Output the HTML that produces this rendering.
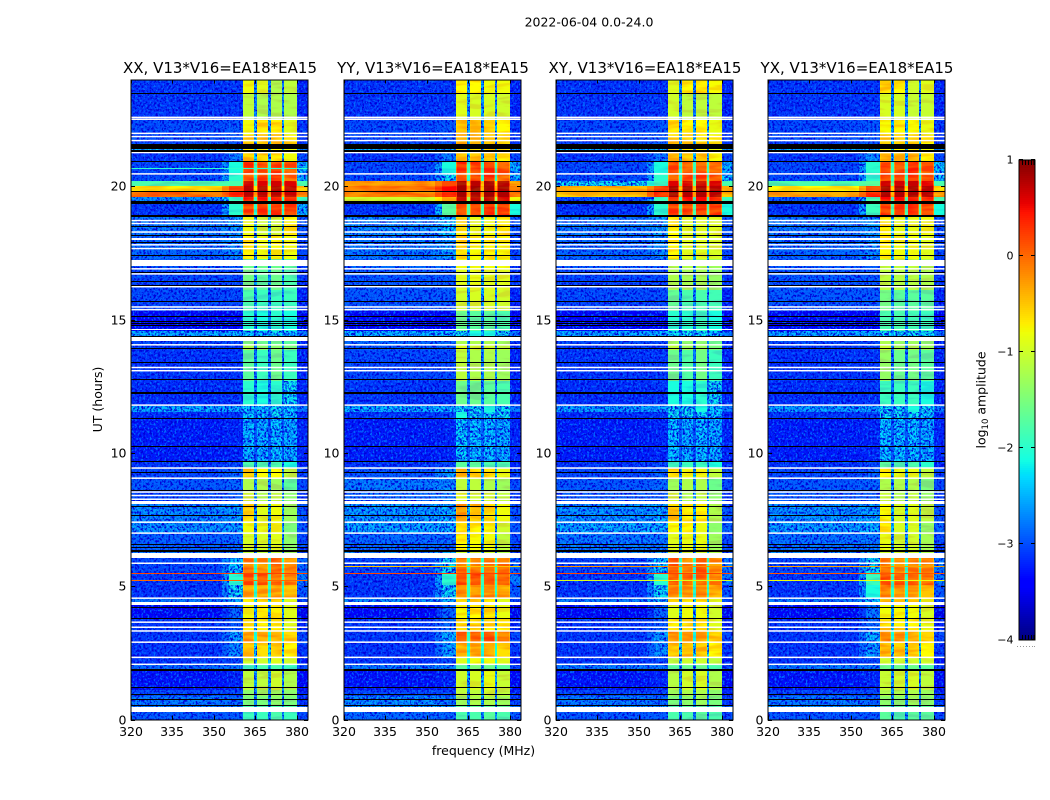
<!DOCTYPE html>
<html>
<head>
<meta charset="utf-8">
<title>2022-06-04 amplitude waterfall</title>
<style>
html,body{margin:0;padding:0;background:#fff;}
svg{display:block;font-family:"DejaVu Sans","Liberation Sans",sans-serif;fill:#000;}
</style>
</head>
<body>
<svg id="chart" xmlns="http://www.w3.org/2000/svg" width="1050" height="800" viewBox="0 0 1050 800">
<defs>
<filter id="speckle" x="0" y="0" width="1" height="1" color-interpolation-filters="sRGB">
<feTurbulence type="fractalNoise" baseFrequency="0.48 0.42" numOctaves="2" seed="4" result="n"/>
<feColorMatrix in="n" type="matrix" values="0 0 0 0 0  0 0 0 0 0.42  0 0 0 0 1  5 0 0 0 -2.6" result="light0"/>
<feComposite in="light0" in2="SourceAlpha" operator="in" result="light"/>
<feColorMatrix in="n" type="matrix" values="0 0 0 0 0  0 0 0 0 0  0 0 0 0 0.85  0 5 0 0 -2.3" result="dark0"/>
<feComposite in="dark0" in2="SourceAlpha" operator="in" result="dark"/>
<feMerge><feMergeNode in="SourceGraphic"/><feMergeNode in="dark"/><feMergeNode in="light"/></feMerge>
</filter>
<filter id="mottle" x="0" y="0" width="1" height="1" color-interpolation-filters="sRGB">
<feTurbulence type="fractalNoise" baseFrequency="0.035 0.22" numOctaves="2" seed="9" result="n"/>
<feColorMatrix in="n" type="matrix" values="0 0 0 0 0.5  3 0 0 0 -1  0 0 0 0 0.5  0 0 0 0 1" result="g"/>
<feComposite in="SourceGraphic" in2="g" operator="arithmetic" k1="0" k2="1" k3="0.22" k4="-0.11" result="mix"/>
<feComposite in="mix" in2="SourceAlpha" operator="in"/>
</filter>
</defs>
<text x="589" y="26.5" font-size="12.5" text-anchor="middle">2022-06-04 0.0-24.0</text>
<text x="483.5" y="755" font-size="12.5" text-anchor="middle">frequency (MHz)</text>
<text x="0" y="0" font-size="12.5" text-anchor="middle" transform="translate(102 399.5) rotate(-90)">UT (hours)</text>
<text x="0" y="0" font-size="12.5" text-anchor="middle" transform="translate(985.5 400) rotate(-90)">log<tspan font-size="8.5" dy="2.5">10</tspan><tspan dy="-2.5"> amplitude</tspan></text>
<g id="panels"></g>
<g id="colorbar"></g>
</svg>
<script>
// UT band edges in hours
const bandEdges = [0,.28,.5,.88,1.11,1.89,2.08,2.32,2.91,3.32,3.77,4.29,4.56,5.04,5.49,6.05,6.28,6.99,7.41,8.08,8.57,9.05,9.43,9.65,11.31,11.53,11.75,12.69,13.86,14.04,14.38,14.57,15.32,16.1,16.93,17.27,18.17,18.88,19.37,19.59,19.82,20.0,20.19,20.46,20.91,21.24,21.54,21.92,22.48,23.49,24];
// frequency segment edges in MHz
const freqEdges = [320,353,355.5,360.4,360.8,364.2,364.5,365.5,365.8,369.2,369.5,370.5,370.8,374.2,374.5,375.5,375.8,379.6,380,384];
// which level column each frequency segment reads
const segmentColumn = [0,1,1,2,2,2,6,3,3,3,6,4,4,4,6,5,5,5,7];
// how each segment uses its column: flat value, shoulder foot, or sub-band rim
const segmentKind = ["flat","foot","flat","rim","flat","rim","flat","rim","flat","rim","flat","rim","flat","rim","flat","rim","flat","rim","flat"];

// log10 amplitude per band: [background, shoulder, sub1, sub2, sub3, sub4, gap, edge]
const xxLevels = [
[-2.9,-2.9,-1.9,-1.9,-1.8,-1.9,-2.6,-3],[-2.6,-2.6,-1.8,-1.8,-1.8,-1.8,-2.5,-2.8],[-2.7,-2.8,-1.5,-1.5,-1.4,-1.5,-2.6,-3.1],[-3,-3,-1.4,-1.3,-1.3,-1.4,-2.6,-3.2],[-3.3,-3.2,-1.1,-1.1,-1,-1.2,-2.5,-3.4],
[-2.8,-2.7,-1.9,-1.8,-1.8,-1.9,-2.4,-3],[-3.1,-3,-1,-1,-.9,-1,-2.2,-3.3],[-3.1,-2.6,-.5,-.5,-.45,-.7,-2.2,-3.1],[-3.1,-2.5,-.25,-.3,-.4,-.5,-2.1,-3],[-3.1,-2.9,-.7,-.7,-.7,-.9,-2.3,-3.2],
[-3.45,-2.8,-.8,-.7,-.6,-.9,-2.4,-3.5],[-2.7,-2.4,-.6,-.6,-.6,-.9,-2.2,-3],[-3.1,-2.2,-.3,-.3,-.3,-.4,-2,-2.9],[-3.1,-2,.1,.1,-.05,-.1,-1.9,-2.7],[-3,-2.3,-.1,-.2,0,-.2,-2,-2.8],
[-2.7,-2.6,-1.1,-1.1,-1.1,-1.3,-2.5,-3],[-2.85,-2.8,-.95,-.95,-.9,-1.4,-2.5,-3],[-2.55,-2.5,-.8,-.85,-.8,-1.5,-2.5,-2.9],[-2.6,-2.5,-.6,-.9,-.8,-1.3,-2.4,-2.9],[-3,-2.9,-1,-1.2,-1.1,-1.4,-2.5,-3.1],
[-2.9,-2.8,-1.2,-1.2,-1.3,-1.7,-2.5,-3],[-3,-2.8,-.5,-.7,-.7,-1.1,-2.4,-3],[-3.1,-3,-1.8,-1.8,-1.8,-2.1,-2.6,-3.2],[-3.25,-3.2,-2.35,-2.4,-2.3,-2.4,-2.9,-3.2],[-3.15,-3.1,-2.3,-2.3,-2.2,-2.3,-2.8,-3.2],
[-2.45,-2.45,-2.3,-2.3,-2.2,-2.3,-2.5,-2.7],[-3.15,-3.1,-2,-2.1,-2,-2.2,-2.7,-3.2],[-3.1,-3.1,-1.7,-1.9,-1.6,-1.9,-2.7,-3.2],[-3.1,-3.1,-1.2,-1.4,-1.4,-1.5,-2.6,-3.2],[-3,-3,-1.5,-1.6,-1.6,-1.7,-2.6,-3.2],
[-2.45,-2.4,-2.3,-2.3,-2.2,-2.3,-2.5,-2.7],[-3.45,-3.4,-2,-2.1,-2,-2.1,-2.7,-3.4],[-3,-3,-1.8,-1.9,-1.9,-1.9,-2.6,-3.2],[-3,-3,-1.55,-1.7,-1.6,-1.8,-2.5,-3.1],[-2.9,-2.9,-1.6,-1.6,-1.6,-1.7,-2.5,-3.1],
[-2.8,-2.6,-.7,-.8,-.75,-.8,-2.3,-3],[-2.7,-2.5,-.8,-1,-1,-.7,-2.3,-2.9],[-3.1,-2,.2,.25,.25,.2,-2,-2.4],[-2.6,-1.9,.4,.4,.4,.35,-1.9,-1.9],[0,.3,.75,.75,.75,.7,-.3,-.2],
[-.6,.1,.75,.75,.75,.7,-.6,-.5],[-1.8,-1.8,.65,.6,.65,.6,-1.6,-1.8],[-3,-2,.1,.2,.3,0,-2,-2.4],[-3,-2.1,.25,.15,.2,.1,-1.9,-2.4],[-3.1,-2.7,-.5,-.5,-.6,-.8,-2.3,-3],
[-2.3,-2.3,-.7,-.7,-.7,-.8,-2.3,-2.5],[-3,-2.9,-.45,-.45,-.5,-.6,-2.3,-3.1],[-3,-2.9,-.8,-.6,-.6,-.9,-2.4,-3.1],[-3.1,-3.1,-1.1,-1.2,-1.2,-1.2,-2.6,-3.2],[-3.1,-3.1,-.8,-.9,-1.2,-1.1,-2.6,-3.2]];

const yyLevels = [
[-2.8,-2.8,-1.8,-1.8,-1.7,-1.8,-2.5,-2.9],[-2.4,-2.4,-1.7,-1.7,-1.7,-1.7,-2.4,-2.7],[-2.6,-2.7,-1.3,-1.2,-1.2,-1.3,-2.5,-3],[-3,-3,-1.1,-1.1,-1,-1.1,-2.5,-3.2],[-3.3,-3.2,-1,-.95,-.85,-1.05,-2.4,-3.4],
[-2.7,-2.6,-1.7,-1.5,-1.6,-1.7,-2.3,-3],[-3.1,-3,-.9,-.8,-.8,-.9,-2.1,-3.3],[-3.1,-2.5,-.35,-.35,-.3,-.5,-2.1,-3.1],[-3.1,-2.4,.1,0,.1,-.1,-2,-3],[-3.1,-2.8,-.6,-.55,-.6,-.7,-2.2,-3.2],
[-3.45,-2.8,-.75,-.65,-.6,-.85,-2.4,-3.5],[-2.6,-2.4,-.7,-.6,-.6,-.9,-2.2,-3],[-3.1,-2.2,-.15,-.2,-.2,-.3,-2,-2.9],[-3.1,-2,.15,.15,.05,0,-1.9,-2.7],[-3,-2.2,-.05,-.1,-.05,-.05,-2,-2.8],
[-2.6,-2.5,-1,-1,-1,-1.2,-2.4,-3],[-2.8,-2.8,-.7,-.75,-.8,-1.1,-2.4,-3],[-2.45,-2.4,-.65,-.7,-.75,-1,-2.4,-2.9],[-2.5,-2.4,-.2,-.45,-.55,-.8,-2.3,-2.9],[-2.8,-2.7,-.9,-1,-1,-1.1,-2.5,-3.1],
[-2.7,-2.6,-1.1,-1.1,-1.2,-1.3,-2.5,-3],[-2.9,-2.5,-.45,-.6,-.55,-.85,-2.3,-3],[-3.1,-3,-1.7,-1.7,-1.8,-1.8,-2.5,-3.2],[-3.25,-3.2,-2.25,-2.3,-2.3,-2.4,-2.8,-3.2],[-3.1,-3,-2.1,-2.2,-2.2,-2.2,-2.7,-3.2],
[-2.4,-2.4,-2.2,-2.2,-2.1,-2.2,-2.5,-2.7],[-3.1,-3.1,-1.6,-1.6,-1.7,-1.8,-2.6,-3.2],[-3,-3,-1.1,-1.2,-1.2,-1.3,-2.6,-3.2],[-2.9,-2.9,-.9,-1,-1,-1.1,-2.6,-3.2],[-2.8,-2.8,-1.2,-1.2,-1.2,-1.3,-2.5,-3.1],
[-2.4,-2.3,-2.2,-2.1,-2.1,-2.2,-2.4,-2.7],[-3.45,-3.4,-1.6,-1.7,-1.7,-1.8,-2.6,-3.4],[-2.9,-2.9,-1,-.95,-.95,-1,-2.5,-3.2],[-2.9,-2.9,-.9,-.85,-.9,-.9,-2.4,-3.1],[-2.8,-2.8,-.8,-.8,-.8,-.8,-2.4,-3.1],
[-2.7,-2.5,-.6,-.75,-.7,-.75,-2.3,-3],[-2.6,-2.3,-.6,-.85,-.8,-.6,-2.2,-2.9],[-3.1,-1.7,.2,.25,.25,.2,-1.8,-2.1],[-1,-.3,.7,.7,.7,.6,-1.2,-.8],[-.1,.4,.85,.8,.85,.8,-.3,-.1],
[-.05,.45,.85,.85,.85,.8,-.3,0],[-.2,.3,.8,.75,.8,.75,-.5,-.3],[-3,-2.2,.1,.2,.3,0,-2,-2.4],[-3,-2.1,.3,.2,.25,.1,-1.9,-2.4],[-3.1,-2.7,-.4,-.4,-.5,-.7,-2.2,-3],
[-2.3,-2.3,-.6,-.6,-.6,-.7,-2.3,-2.5],[-3,-2.9,-.4,-.4,-.45,-.6,-2.3,-3.1],[-3,-2.9,-.5,-.5,-.5,-.7,-2.4,-3.1],[-3.1,-3.1,-.9,-.95,-.95,-1,-2.5,-3.2],[-3.1,-3.1,-.7,-.7,-.8,-.8,-2.5,-3.2]];

const xyLevels = [
[-2.9,-2.9,-1.8,-1.8,-1.7,-1.8,-2.6,-3],[-2.5,-2.5,-1.8,-1.7,-1.7,-1.8,-2.5,-2.8],[-2.7,-2.8,-1.5,-1.4,-1.3,-1.5,-2.6,-3.1],[-3,-3,-1.3,-1.2,-1.2,-1.4,-2.6,-3.2],[-3.3,-3.2,-1.15,-1,-.95,-1.2,-2.5,-3.4],
[-2.7,-2.7,-1.7,-1.6,-1.6,-1.8,-2.4,-3],[-3.1,-3,-1.1,-1,-1,-1.1,-2.2,-3.3],[-3.1,-2.6,-.45,-.45,-.45,-.7,-2.2,-3.1],[-3.1,-2.5,-.2,-.25,-.3,-.5,-2.1,-3],[-3.1,-2.9,-.6,-.6,-.7,-.9,-2.3,-3.2],
[-3.45,-2.8,-.9,-.8,-.8,-1,-2.4,-3.5],[-2.7,-2.4,-.5,-.6,-.6,-.9,-2.2,-3],[-3.1,-2.2,-.2,-.25,-.2,-.35,-2,-2.9],[-3.1,-2,.1,.05,0,-.1,-1.9,-2.7],[-3,-2.3,.05,-.15,.05,-.2,-2,-2.7],
[-2.6,-2.5,-1,-1,-1,-1.2,-2.4,-3],[-2.7,-2.7,-.9,-.85,-.85,-1.3,-2.5,-3],[-2.45,-2.4,-.75,-.7,-.85,-1.4,-2.4,-2.8],[-2.55,-2.45,-.5,-.7,-.7,-1.2,-2.4,-2.9],[-2.9,-2.9,-1,-1.2,-1.1,-1.4,-2.5,-3.1],
[-2.9,-2.8,-1.3,-1.2,-1.2,-1.6,-2.5,-3],[-3,-2.8,-.6,-.8,-.8,-1.1,-2.4,-3],[-3.1,-3,-1.9,-1.9,-1.9,-2.1,-2.6,-3.2],[-3.25,-3.2,-2.3,-2.4,-2.3,-2.4,-2.9,-3.2],[-3.15,-3.1,-2.2,-2.2,-2.2,-2.3,-2.8,-3.2],
[-2.5,-2.5,-2.2,-2.2,-2.1,-2.3,-2.5,-2.7],[-3.15,-3.1,-2.1,-2.1,-2,-2.2,-2.7,-3.2],[-3.1,-3.1,-1.6,-1.75,-1.55,-1.9,-2.7,-3.2],[-3.1,-3.1,-1.1,-1.3,-1.3,-1.5,-2.6,-3.2],[-3,-3,-1.3,-1.4,-1.4,-1.6,-2.6,-3.2],
[-2.45,-2.4,-2.2,-2.2,-2.2,-2.3,-2.5,-2.7],[-3.45,-3.4,-2,-2,-1.9,-2.1,-2.7,-3.4],[-3,-3,-1.65,-1.8,-1.8,-1.85,-2.6,-3.2],[-3,-3,-1.2,-1.25,-1.25,-1.35,-2.5,-3.1],[-2.9,-2.9,-1.2,-1.2,-1.2,-1.3,-2.5,-3.1],
[-2.8,-2.6,-.7,-.9,-.9,-.95,-2.3,-3],[-2.7,-2.5,-.7,-.9,-.9,-.9,-2.3,-2.9],[-3.1,-2,.2,.2,.25,.2,-1.8,-2.1],[-3,-1.9,.35,.4,.4,.35,-1.8,-1.9],[-.45,.3,.8,.8,.8,.75,-.4,-.4],
[-.3,.25,.8,.8,.8,.75,-.4,-.35],[-2.2,-1.9,.6,.6,.65,.6,-1.6,-1.8],[-3,-2,.1,.15,.2,.1,-1.9,-2.3],[-3,-2.1,.15,.05,.05,0,-1.9,-2.4],[-3.1,-2.7,-.45,-.45,-.5,-.75,-2.3,-3],
[-2.3,-2.3,-.7,-.7,-.7,-.8,-2.3,-2.5],[-3,-2.9,-.5,-.5,-.55,-.7,-2.3,-3.1],[-3,-2.9,-.6,-.7,-.7,-.85,-2.4,-3.1],[-3.1,-3.1,-1,-1.1,-1.1,-1.1,-2.6,-3.2],[-3.1,-3.1,-.9,-.7,-.6,-.75,-2.6,-3.2]];

const yxLevels = [
[-2.9,-2.9,-1.7,-1.8,-1.7,-1.7,-2.6,-3],[-2.5,-2.5,-1.7,-1.7,-1.7,-1.7,-2.5,-2.8],[-2.7,-2.8,-1.4,-1.4,-1.3,-1.4,-2.6,-3.1],[-3,-3,-1.2,-1.2,-1.2,-1.3,-2.6,-3.2],[-3.3,-3.2,-1.05,-1,-.95,-1.1,-2.5,-3.4],
[-2.7,-2.7,-1.6,-1.6,-1.6,-1.7,-2.4,-3],[-3.1,-3,-1,-1,-1,-1,-2.2,-3.3],[-3.1,-2.5,-.4,-.45,-.5,-.7,-2.2,-3.1],[-3.1,-2.4,-.15,-.25,-.35,-.45,-2.1,-3],[-3.1,-2.8,-.55,-.6,-.7,-.85,-2.3,-3.2],
[-3.45,-2.7,-.8,-.75,-.8,-.95,-2.4,-3.5],[-2.7,-2.3,-.5,-.6,-.6,-.85,-2.2,-3],[-3.1,-2.1,-.1,-.2,-.2,-.35,-2,-2.9],[-3.1,-1.9,.1,.05,0,-.05,-1.9,-2.7],[-3,-2.2,-.05,-.15,-.1,-.15,-2,-2.7],
[-2.6,-2.5,-1,-1,-1,-1.2,-2.4,-3],[-2.75,-2.7,-.85,-1,-1,-1.25,-2.5,-3],[-2.5,-2.4,-.6,-.95,-.95,-1.35,-2.4,-2.8],[-2.55,-2.45,-.75,-.95,-.9,-1.1,-2.4,-2.9],[-2.9,-2.9,-1.05,-1.2,-1.1,-1.35,-2.5,-3.1],
[-2.9,-2.8,-1.2,-1.2,-1.2,-1.5,-2.5,-3],[-3,-2.8,-.7,-.85,-.85,-1.1,-2.4,-3],[-3.1,-3,-1.7,-1.8,-1.8,-2,-2.6,-3.2],[-3.25,-3.2,-2.3,-2.3,-2.3,-2.4,-2.9,-3.2],[-3.1,-3,-2.2,-2.2,-2.2,-2.3,-2.8,-3.2],
[-2.5,-2.5,-2.2,-2.2,-2.1,-2.2,-2.5,-2.7],[-3.15,-3.1,-1.9,-1.9,-1.9,-2.1,-2.7,-3.2],[-3.1,-3.1,-1.35,-1.6,-1.55,-1.7,-2.7,-3.2],[-3.1,-3.1,-1.05,-1.25,-1.2,-1.3,-2.6,-3.2],[-3,-3,-1.2,-1.35,-1.3,-1.4,-2.6,-3.2],
[-2.45,-2.4,-2.2,-2.2,-2.2,-2.2,-2.5,-2.7],[-3.45,-3.4,-1.8,-1.8,-1.85,-1.9,-2.7,-3.4],[-2.9,-2.9,-1.55,-1.7,-1.7,-1.7,-2.6,-3.2],[-2.9,-2.9,-1.1,-1.15,-1.15,-1.2,-2.5,-3.1],[-2.9,-2.9,-1.1,-1.1,-1.1,-1.2,-2.5,-3.1],
[-2.8,-2.6,-.7,-.8,-.8,-.9,-2.3,-3],[-2.7,-2.5,-.65,-.85,-.85,-.8,-2.3,-2.9],[-3.1,-1.9,.2,.2,.3,.2,-1.8,-2.1],[-2.9,-1.8,.4,.4,.4,.35,-1.8,-1.8],[-.25,.35,.8,.8,.8,.75,-.4,-.3],
[-.7,.2,.8,.8,.8,.75,-.5,-.6],[-1.8,-1.7,.65,.65,.7,.55,-1.6,-1.8],[-3,-2,.15,.2,.3,.1,-1.9,-2.3],[-3,-2,.2,.15,.3,.1,-1.9,-2.3],[-3.1,-2.6,-.4,-.45,-.4,-.7,-2.3,-3],
[-2.3,-2.3,-.7,-.7,-.7,-.8,-2.3,-2.5],[-3,-2.9,-.45,-.45,-.5,-.65,-2.3,-3.1],[-3,-2.9,-.75,-.65,-.75,-.85,-2.4,-3.1],[-3.1,-3.1,-.95,-.95,-1.05,-1.05,-2.6,-3.2],[-3.1,-3.1,-.55,-.7,-1,-.9,-2.6,-3.2]];

// narrow bright rows per panel: [UT hour, log10 amplitude]
const xxSpikes = [[5.49,.2],[5.22,0],[20.7,-2]];
const yySpikes = [[5.76,-.5],[5.49,.2]];
const xySpikes = [[5.76,-.2],[5.49,.2],[5.22,-.9]];
const yxSpikes = [[5.76,-.3],[5.49,.1],[5.22,-.8]];

// flagged rows, shared by all panels (UT hours)
const whiteLines = [22.58,22.51,21.98,21.86,21.71,21.26,20.46,18.71,18.6,18.28,17.8,17.66,16.9,16.71,16.23,15.47,15.37,14.05,13.2,13.08,11.79,9.43,9.05,8.53,8.4,8.26,7.4,6.99,5.86,4.55,3.65,3.46,3.32,2.9,2.33,2.07];
const whiteBlocks = [[14.59,14.65],[14.21,14.36],[16.99,17.23],[8.09,8.2],[6.06,6.24],[4.3,4.41],[.29,.47],[18,18.05]];
const blackLines = [23.51,20.96,19.83,19.46,18.49,18.18,17.91,17.42,16.78,16.43,16.28,15.68,15.14,14.96,14.87,14.8,14.4,13.41,11.31,10.26,9.69,9.29,7.99,7.66,6.59,6.47,4.22,3.8,1.21,.95,.76,.56];
const blackBlocks = [[21.41,21.59],[21.29,21.36],[19.35,19.42],[18.86,18.91],[13.89,13.95],[12.73,12.78],[12.22,12.27],[8.56,8.62],[6.29,6.34],[1.82,1.88]];

// tick labels
const freqTicks = [320,335,350,365,380];
const utTicks = [0,5,10,15,20];
const colorTicks = [1,0,-1,-2,-3,-4];
const panelTitles = ["XX, V13*V16=EA18*EA15","YY, V13*V16=EA18*EA15","XY, V13*V16=EA18*EA15","YX, V13*V16=EA18*EA15"];

const NS = "http://www.w3.org/2000/svg";
const panelLevels = [xxLevels, yyLevels, xyLevels, yxLevels];
const panelSpikes = [xxSpikes, yySpikes, xySpikes, yxSpikes];
const panelLeft = [131, 344, 556, 768];
const plotWidth = 177, plotTop = 79.5, plotBottom = 719.5;
const lineHalf = 0.028;

function fx(left, f) { return left + (f - 320) * plotWidth / 64; }
function uy(h) { return plotBottom - h * (plotBottom - plotTop) / 24; }
function cy(v) { return 640 - (v + 4) * 96; }

function jet(v) {
  const t = Math.max(0, Math.min(1, (v + 4) / 5));
  const seg = function (pts) {
    for (let i = 1; i < pts.length; i++) {
      if (t <= pts[i][0]) {
        const a = pts[i - 1], b = pts[i];
        return a[1] + (b[1] - a[1]) * (t - a[0]) / (b[0] - a[0]);
      }
    }
    return pts[pts.length - 1][1];
  };
  const r = seg([[0,0],[.35,0],[.66,1],[.89,1],[1,.5]]);
  const g = seg([[0,0],[.125,0],[.375,1],[.64,1],[.91,0],[1,0]]);
  const b = seg([[0,.5],[.11,1],[.34,1],[.65,0],[1,0]]);
  return "rgb(" + Math.round(r * 255) + "," + Math.round(g * 255) + "," + Math.round(b * 255) + ")";
}

function cellValue(row, j) {
  const v = row[segmentColumn[j]];
  if (segmentKind[j] === "foot") { return (row[0] + v) / 2; }
  if (segmentKind[j] === "rim") { return Math.min(v, -0.6 + 0.6 * (v + 0.6)); }
  return v;
}

function makeRect(parent, x, y, w, h, fill) {
  const r = document.createElementNS(NS, "rect");
  r.setAttribute("x", x);
  r.setAttribute("y", y);
  r.setAttribute("width", w);
  r.setAttribute("height", h);
  r.setAttribute("fill", fill);
  r.setAttribute("shape-rendering", "crispEdges");
  parent.appendChild(r);
  return r;
}

function makeLine(parent, x1, y1, x2, y2, stroke) {
  const l = document.createElementNS(NS, "line");
  l.setAttribute("x1", x1);
  l.setAttribute("y1", y1);
  l.setAttribute("x2", x2);
  l.setAttribute("y2", y2);
  l.setAttribute("stroke", stroke);
  l.setAttribute("stroke-width", "1");
  parent.appendChild(l);
  return l;
}

function makeText(parent, x, y, size, anchor, str) {
  const t = document.createElementNS(NS, "text");
  t.setAttribute("x", x);
  t.setAttribute("y", y);
  t.setAttribute("font-size", size);
  t.setAttribute("text-anchor", anchor);
  t.textContent = str;
  parent.appendChild(t);
  return t;
}

function minus(v) { return v < 0 ? "\u2212" + Math.abs(v) : String(v); }

function drawPanel(index) {
  const left = panelLeft[index];
  const levels = panelLevels[index];
  const root = document.getElementById("panels");

  const g = document.createElementNS(NS, "g");
  
  
  root.appendChild(g);

  const noisy = document.createElementNS(NS, "g");
  noisy.setAttribute("filter", "url(#speckle)");
  
  
  g.appendChild(noisy);

  const bright = document.createElementNS(NS, "g");
  bright.setAttribute("filter", "url(#mottle)");
  
  
  g.appendChild(bright);

  for (let i = 0; i < levels.length; i++) {
    const yTop = Math.round(uy(bandEdges[i + 1]));
    const yBot = Math.round(uy(bandEdges[i]));
    for (let j = 0; j < segmentColumn.length; j++) {
      const value = cellValue(levels[i], j);
      const x0 = Math.round(fx(left, freqEdges[j]));
      const x1 = Math.round(fx(left, freqEdges[j + 1]));
      const holder = value < -2.15 ? noisy : bright;
      const cell = makeRect(holder, x0, yTop, x1 - x0, yBot - yTop, jet(value));
      
      
    }
  }

  const x0 = Math.round(left), w = plotWidth;
  panelSpikes[index].forEach(function (s) {
    const sp = makeRect(g, x0, Math.round(uy(s[0])), w, 1, jet(s[1]));
    
    
  });
  whiteBlocks.forEach(function (b) {
    const yA = Math.round(uy(b[1]));
    const fl = makeRect(g, x0, yA, w, Math.max(1, Math.round(uy(b[0])) - yA), "#fff");
    
    
  });
  whiteLines.forEach(function (h) {
    const yA = uy(h + lineHalf);
    const fl = makeRect(g, x0, yA, w, uy(h - lineHalf) - yA, "#fff");
    fl.setAttribute("shape-rendering", "auto");
    
    
  });
  blackBlocks.forEach(function (b) {
    const yA = Math.round(uy(b[1]));
    const fl = makeRect(g, x0, yA, w, Math.max(1, Math.round(uy(b[0])) - yA), "#000");
    
    
  });
  blackLines.forEach(function (h) {
    const fl = makeRect(g, x0, Math.round(uy(h)), w, 1, "#000");
    
    
  });

  const frame = document.createElementNS(NS, "rect");
  frame.setAttribute("x", left);
  frame.setAttribute("y", plotTop + 0.5);
  frame.setAttribute("width", plotWidth);
  frame.setAttribute("height", plotBottom - plotTop);
  frame.setAttribute("fill", "none");
  frame.setAttribute("stroke", "#000");
  frame.setAttribute("stroke-width", "1");
  
  
  g.appendChild(frame);

  freqTicks.forEach(function (f) {
    const x = Math.round(fx(left, f)) + 0.5;
    const a = makeLine(g, x, plotBottom, x, plotBottom - 4, "#000");
    
    
    const b = makeLine(g, x, plotTop, x, plotTop + 4, "#000");
    
    
    const lab = makeText(g, x - 0.5, 736, 12.5, "middle", String(f));
    
    
  });

  utTicks.forEach(function (h) {
    const y = Math.round(uy(h)) + 0.5;
    const a = makeLine(g, left, y, left + 4, y, "#000");
    
    
    const b = makeLine(g, left + plotWidth, y, left + plotWidth - 4, y, "#000");
    
    
    const lab = makeText(g, left - 4.5, y + 4, 12.5, "end", String(h));
    
    
  });

  const title = makeText(g, left + plotWidth / 2 + 0.5, 73, 15, "middle", panelTitles[index]);
  
  
}

function drawColorbar() {
  const g = document.getElementById("colorbar");
  for (let y = 160; y < 640; y += 2) {
    const v = -4 + (640 - y - 1) / 96;
    const band = makeRect(g, 1019, y, 16, 2, jet(v));
    
    
  }
  const frame = document.createElementNS(NS, "rect");
  frame.setAttribute("x", 1019);
  frame.setAttribute("y", 160);
  frame.setAttribute("width", 16);
  frame.setAttribute("height", 480);
  frame.setAttribute("fill", "none");
  frame.setAttribute("stroke", "#000");
  frame.setAttribute("stroke-width", "1");
  
  
  g.appendChild(frame);

  colorTicks.forEach(function (v) {
    const y = cy(v) - 0.5;
    const a = makeLine(g, 1019, y, 1023, y, "#000");
    
    
    const b = makeLine(g, 1031, y, 1035, y, "#000");
    
    
    const lab = makeText(g, 1013.5, y + 4, 11, "end", minus(v));
    
    
  });

  [1022.5, 1025.5, 1028.5, 1031.5, 1034].forEach(function (x) {
    const a = makeLine(g, x, 160, x, 165, "#000");
    
    
    const b = makeLine(g, x, 640, x, 635, "#000");
    
    
  });

  [1017, 1020, 1023, 1026, 1029, 1032, 1034].forEach(function (x) {
    const d = makeRect(g, x, 646, 1, 1, "#999");
    
    
  });
}

for (let p = 0; p < panelLevels.length; p++) { drawPanel(p); }
drawColorbar();
</script>
</body>
</html>
